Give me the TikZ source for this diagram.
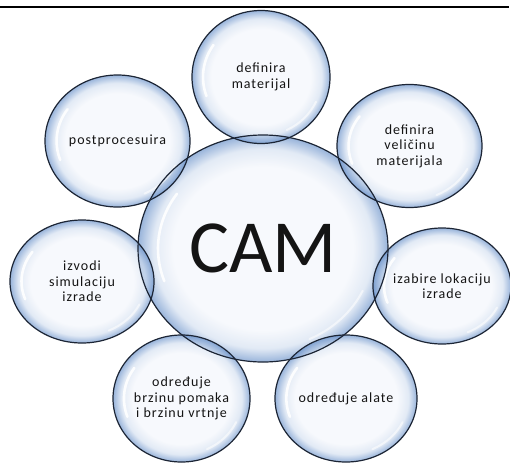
\documentclass[tikz,border=0pt]{standalone}
\usepackage{fontspec}
\setmainfont{Carlito}[LetterSpace=7]
\newfontfamily\camfont{Carlito}
\usetikzlibrary{shapes.geometric}
\definecolor{bubin}{HTML}{F2F5FB}
\definecolor{bubmid}{HTML}{D0DDEF}
\definecolor{bubrim}{HTML}{5A86C4}
\definecolor{bubline}{HTML}{1C2535}
\pgfdeclareradialshading{bubble}{\pgfpoint{0bp}{0bp}}{color(0bp)=(bubin); color(18bp)=(bubin); color(22bp)=(bubmid); color(25bp)=(bubrim); color(50bp)=(bubrim)}
\newcommand{\bubfont}{\fontsize{14}{15.5}\selectfont}
\tikzset{
  bub/.style 2 args={ellipse, minimum width=#1pt, minimum height=#2pt, inner sep=0pt,
    shading=bubble, fill opacity=.62, text opacity=1, align=center, font=\bubfont,
    text=black!92,
    path picture={
      \draw[white, opacity=.9, line width=2.6pt, line cap=round]
        ([shift={(145:{0.42*#1pt} and {0.42*#2pt})}]path picture bounding box.center)
        arc[start angle=145, end angle=200, x radius=0.42*#1pt, y radius=0.42*#2pt];
      \draw[white, opacity=.55, line width=2pt, line cap=round]
        ([shift={(-65:{0.44*#1pt} and {0.44*#2pt})}]path picture bounding box.center)
        arc[start angle=-65, end angle=-25, x radius=0.44*#1pt, y radius=0.44*#2pt];
    }},
  rimline/.style={draw=bubline, line width=1.2pt}
}

\begin{document}
\begin{tikzpicture}[x=1pt,y=-1pt]
  \useasboundingbox (0,0) rectangle (510,463);
  \clip (0,0) rectangle (510,463);

  \node[bub={250}{227}] (cam) at (263,248.5) {\camfont\fontsize{75}{80}\selectfont CAM};
  \node[bub={138}{133}] (mat) at (261,77) {definira\\materijal};
  \node[bub={145}{132}] (post) at (117.5,141) {postprocesuira};
  \node[bub={145}{123}] (vel) at (409.5,146) {definira\\veličinu\\materijala};
  \node[bub={144}{123}] (sim) at (82,281.5) {izvodi\\simulaciju\\izrade};
  \node[bub={138}{116}] (lok) at (442,286) {izabire lokaciju\\izrade};
  \node[bub={137}{127}] (brz) at (181.5,398.5) {određuje\\brzinu pomaka\\i brzinu vrtnje};
  \node[bub={142}{127}] (alat) at (346,398.5) {određuje alate};

  % outlines on top of all fills
  \foreach \nm/\w/\h in {cam/250/227, mat/138/133, post/145/132, vel/145/123,
                        sim/144/123, lok/138/116, brz/137/127, alat/142/127}
    \draw[rimline] (\nm.center) ellipse [x radius=\w pt/2, y radius=\h pt/2];

  \draw[line width=2pt] (0,7) -- (509,7);
\end{tikzpicture}
\end{document}
